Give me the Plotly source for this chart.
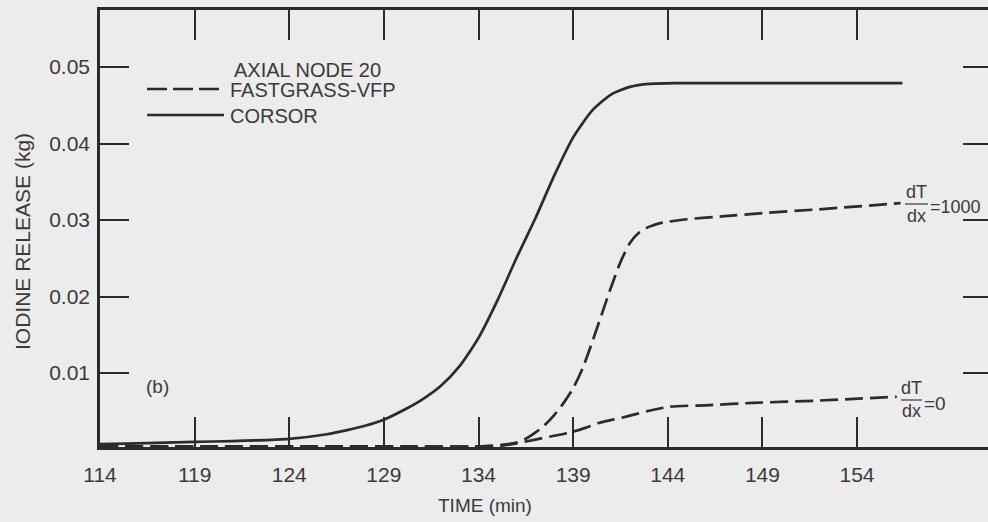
import plotly.graph_objects as go

# ---------------- data ----------------
time_corsor = [114, 116, 119, 121, 124, 126, 127, 128, 129, 130, 131, 132, 133, 134, 135, 136,
               137, 138, 139, 140, 141, 142, 143, 144.5, 146, 150, 156.4]
release_corsor = [0.0007, 0.0008, 0.0010, 0.0011, 0.0014, 0.0020, 0.0025, 0.0031, 0.0039, 0.0051,
                  0.0065, 0.0083, 0.0109, 0.0146, 0.0195, 0.0250, 0.0302, 0.0358, 0.0408, 0.0443,
                  0.0464, 0.0474, 0.0478, 0.0479, 0.0479, 0.0479, 0.0479]

time_fg1000 = [114, 120, 126, 130, 134, 135.2, 136.0, 136.5, 137.0, 137.5, 138.0, 138.5, 139.0,
               139.5, 140.0, 140.5, 141.0, 141.5, 142.0, 142.5, 143.0, 143.6, 145, 147, 149, 152,
               156.3]
release_fg1000 = [0.0004, 0.0004, 0.0004, 0.0004, 0.0004, 0.0006, 0.0009, 0.0014, 0.0022, 0.0032,
                  0.0045, 0.0061, 0.0080, 0.0106, 0.0140, 0.0176, 0.0212, 0.0245, 0.0270, 0.0284,
                  0.0291, 0.0296, 0.0301, 0.0305, 0.0309, 0.0314, 0.0322]

time_fg0 = [114, 120, 126, 130, 134, 135.2, 136.0, 137.0, 138.0, 138.8, 139.6, 140.4, 141.1,
            141.8, 142.9, 144.1, 146.2, 148.5, 152, 156.1]
release_fg0 = [0.0004, 0.0004, 0.0004, 0.0004, 0.0004, 0.0005, 0.0008, 0.0013, 0.0018, 0.0022,
               0.0028, 0.0035, 0.0039, 0.0043, 0.0050, 0.0056, 0.0058, 0.0061, 0.0064, 0.0069]

x_ticks = [114, 119, 124, 129, 134, 139, 144, 149, 154]
x_tick_labels = ["114", "119", "124", "129", "134", "139", "144", "149", "154"]
y_ticks = [0.01, 0.02, 0.03, 0.04, 0.05]
y_tick_labels = ["0.01", "0.02", "0.03", "0.04", "0.05"]

# ---------------- styling ----------------
INK = "#2b2b2b"
TXT = "#3a3a3a"
BG = "#ececec"
FONT = "Liberation Sans, Arial, sans-serif"
DASH = "18px,7px"

W, H = 988, 522
PL, PT, PW, PH = 100, 10, 888, 437


def px(X):
    return (X - PL) / PW


def py(Y):
    return (PT + PH - Y) / PH


fig = go.Figure()
fig.add_trace(go.Scatter(x=time_corsor, y=release_corsor, mode="lines",
                         line=dict(color=INK, width=2.7, shape="spline", smoothing=0.6),
                         showlegend=False, hoverinfo="skip"))
fig.add_trace(go.Scatter(x=time_fg1000, y=release_fg1000, mode="lines",
                         line=dict(color=INK, width=2.7, dash=DASH, shape="spline", smoothing=0.6),
                         showlegend=False, hoverinfo="skip"))
fig.add_trace(go.Scatter(x=time_fg0, y=release_fg0, mode="lines",
                         line=dict(color=INK, width=2.7, dash=DASH, shape="spline", smoothing=0.6),
                         showlegend=False, hoverinfo="skip"))
# invisible trace to activate the right-hand tick axis
fig.add_trace(go.Scatter(x=time_corsor, y=release_corsor, mode="lines", yaxis="y2",
                         opacity=0, line=dict(width=0), showlegend=False, hoverinfo="skip"))

yrange = [0.00033, 0.05745]

fig.update_layout(
    width=W, height=H, autosize=False,
    margin=dict(l=PL, r=0, t=PT, b=H - PT - PH, pad=0),
    paper_bgcolor=BG, plot_bgcolor=BG,
    font=dict(family=FONT, color=TXT, size=20),
    xaxis=dict(range=[114, 160.92], tickmode="array", tickvals=x_ticks, ticktext=x_tick_labels,
               ticks="inside", ticklen=30, tickwidth=2, tickcolor=INK,
               showline=True, linewidth=2.5, linecolor=INK, mirror="ticks",
               showgrid=False, zeroline=False, ticklabelstandoff=7,
               tickfont=dict(family=FONT, size=21, color=TXT)),
    yaxis=dict(range=yrange, tickmode="array", tickvals=y_ticks, ticktext=y_tick_labels,
               ticks="inside", ticklen=29, tickwidth=2, tickcolor=INK,
               showline=True, linewidth=2.5, linecolor=INK, mirror=False,
               showgrid=False, zeroline=False, ticklabelstandoff=3,
               tickfont=dict(family=FONT, size=21, color=TXT)),
    yaxis2=dict(range=yrange, overlaying="y", side="right", anchor="x",
                tickmode="array", tickvals=y_ticks, showticklabels=False,
                ticks="inside", ticklen=25, tickwidth=2, tickcolor=INK,
                showline=False, showgrid=False, zeroline=False),
)

ann = []


def text(X, Y, s, size=20, xanchor="center", angle=0):
    ann.append(dict(x=px(X), y=py(Y), xref="paper", yref="paper", text=s, showarrow=False,
                    xanchor=xanchor, yanchor="middle", textangle=angle,
                    font=dict(family=FONT, size=size, color=TXT)))


# legend block
text(232, 70, "AXIAL NODE 20", xanchor="left")
text(228, 90, "FASTGRASS-VFP", xanchor="left")
text(228, 116, "CORSOR", xanchor="left")
# panel label
text(157, 386, "(b)", size=19)
# curve labels
text(916, 192, "dT", size=18)
text(916, 216, "dx", size=18)
text(928, 207, "=1000", size=18, xanchor="left")
text(911, 388, "dT", size=18)
text(911, 411, "dx", size=18)
text(922, 403, "=0", size=19, xanchor="left")
# axis titles
text(22, 242, "IODINE RELEASE (kg)", size=21, angle=-90)
text(485, 505, "TIME (min)", size=19)

shapes = [
    dict(type="line", xref="paper", yref="paper", x0=px(147), x1=px(224), y0=py(89), y1=py(89),
         line=dict(color=INK, width=2.6, dash="20px,6px")),
    dict(type="line", xref="paper", yref="paper", x0=px(147), x1=px(224), y0=py(115), y1=py(115),
         line=dict(color=INK, width=2.6)),
    dict(type="line", xref="paper", yref="paper", x0=px(905), x1=px(928), y0=py(204), y1=py(204),
         line=dict(color=TXT, width=1.2)),
    dict(type="line", xref="paper", yref="paper", x0=px(901), x1=px(922), y0=py(400), y1=py(400),
         line=dict(color=TXT, width=1.2)),
]

fig.update_layout(annotations=ann, shapes=shapes)
fig.write_html("out.html", config={"displayModeBar": False},
               post_script="document.body.style.margin='0';document.body.style.overflow='hidden';")
